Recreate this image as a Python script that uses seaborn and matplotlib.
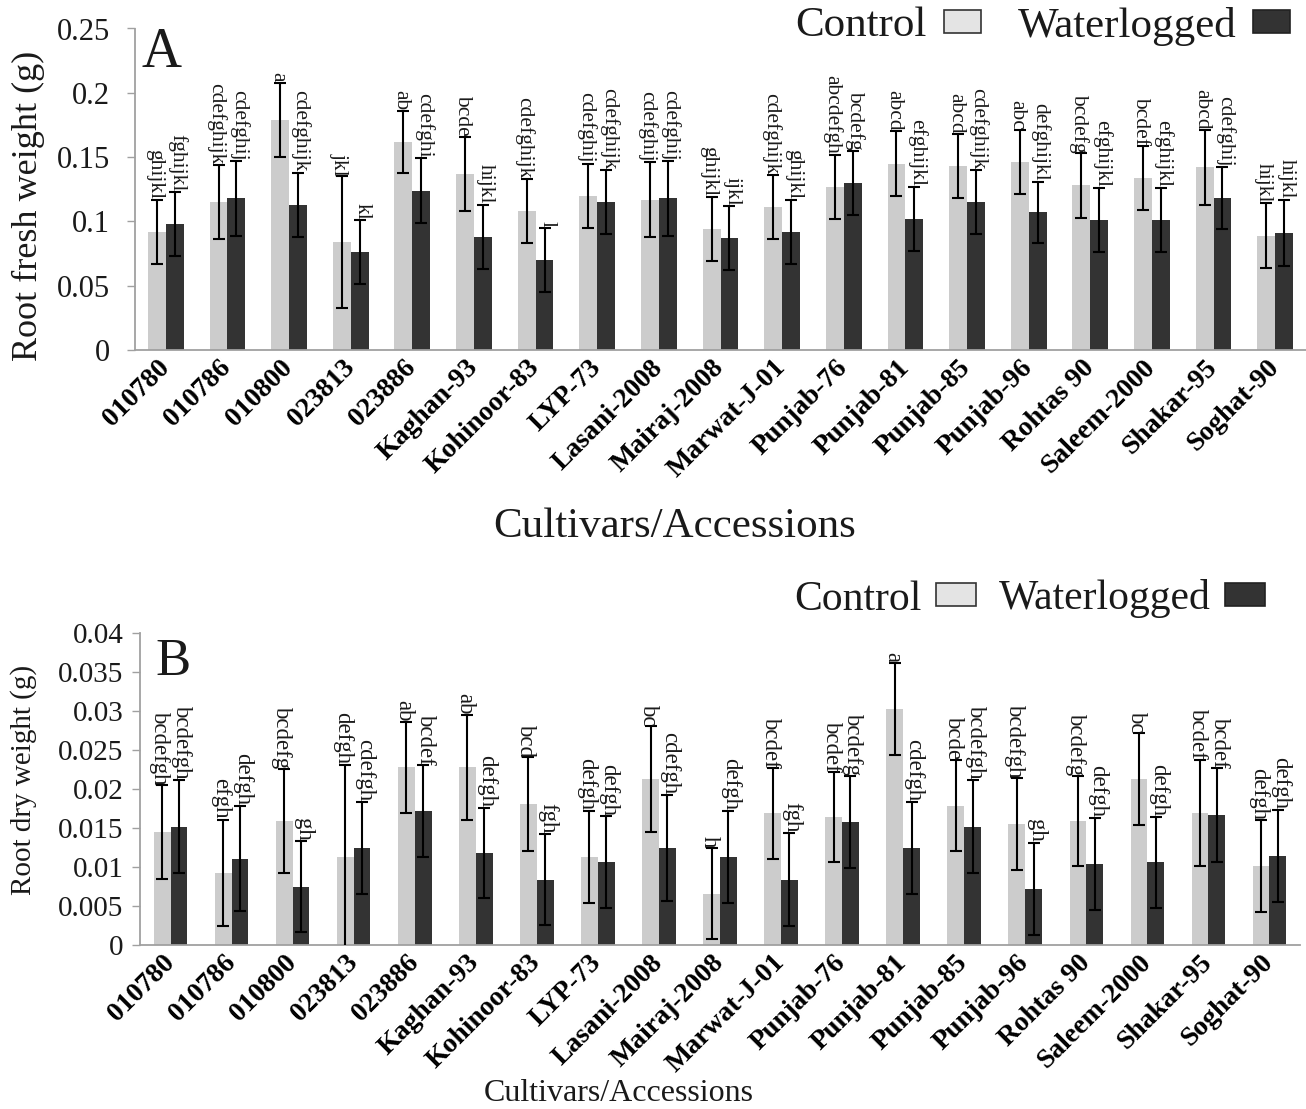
import matplotlib
matplotlib.use("Agg")
import matplotlib.pyplot as plt
import numpy as np
import pandas as pd
import seaborn as sns
from matplotlib.patches import Patch
from matplotlib.ticker import FuncFormatter, MultipleLocator

# ---- data -----------------------------------------------------------------
cultivars = ["010780", "010786", "010800", "023813", "023886", "Kaghan-93",
             "Kohinoor-83", "LYP-73", "Lasani-2008", "Mairaj-2008",
             "Marwat-J-01", "Punjab-76", "Punjab-81", "Punjab-85",
             "Punjab-96", "Rohtas 90", "Saleem-2000", "Shakar-95", "Soghat-90"]
treatments = ["Control", "Waterlogged"]

# Root fresh weight (g)
fw_control = [0.092, 0.115, 0.179, 0.084, 0.162, 0.137, 0.108, 0.120, 0.117,
              0.094, 0.111, 0.127, 0.145, 0.143, 0.146, 0.128, 0.134, 0.142,
              0.089]
fw_control_err = [0.025, 0.029, 0.029, 0.051, 0.024, 0.029, 0.025, 0.025,
                  0.029, 0.025, 0.025, 0.025, 0.025, 0.025, 0.025, 0.025,
                  0.025, 0.029, 0.025]
fw_water = [0.098, 0.118, 0.113, 0.076, 0.124, 0.088, 0.070, 0.115, 0.118,
            0.087, 0.092, 0.130, 0.102, 0.115, 0.107, 0.101, 0.101, 0.118,
            0.091]
fw_water_err = [0.025, 0.029, 0.025, 0.025, 0.025, 0.025, 0.025, 0.025,
                0.029, 0.025, 0.025, 0.025, 0.025, 0.025, 0.024, 0.025,
                0.025, 0.024, 0.026]
fw_control_grp = ["ghijkl", "cdefghijk", "a", "jkl", "ab", "bcde", "cdefghijk",
                  "cdefghij", "cdefghij", "ghijkl", "cdefghijk", "abcdefgh",
                  "abcd", "abcd", "abc", "bcdefg", "bcdef", "abcd", "hijkl"]
fw_water_grp = ["fghijkl", "cdefghij", "cdefghijk", "kl", "cdefghi", "hijkl",
                "l", "cdefghijk", "cdefghij", "ijkl", "ghijkl", "bcdefg",
                "efghijkl", "cdefghijk", "defghijkl", "efghijkl", "efghijkl",
                "cdefghij", "hijkl"]

# Root dry weight (g)
dw_control = [0.0145, 0.0093, 0.0159, 0.0113, 0.0228, 0.0228, 0.0181, 0.0113,
              0.0213, 0.0066, 0.0169, 0.0164, 0.0303, 0.0179, 0.0155, 0.0159,
              0.0213, 0.0170, 0.0101]
dw_control_err = [0.0060, 0.0068, 0.0067, 0.0118, 0.0058, 0.0067, 0.0060,
                  0.0059, 0.0068, 0.0058, 0.0058, 0.0058, 0.0059, 0.0058,
                  0.0059, 0.0058, 0.0059, 0.0068, 0.0059]
dw_water = [0.0152, 0.0111, 0.0075, 0.0125, 0.0172, 0.0118, 0.0084, 0.0106,
            0.0125, 0.0113, 0.0084, 0.0158, 0.0125, 0.0152, 0.0072, 0.0104,
            0.0106, 0.0167, 0.0114]
dw_water_err = [0.0060, 0.0068, 0.0058, 0.0059, 0.0059, 0.0058, 0.0058,
                0.0059, 0.0068, 0.0059, 0.0060, 0.0059, 0.0059, 0.0060,
                0.0059, 0.0059, 0.0058, 0.0060, 0.0059]
dw_control_grp = ["bcdefgh", "efgh", "bcdefg", "defgh", "ab", "ab", "bcd",
                  "defgh", "bc", "h", "bcdef", "bcdef", "a", "bcde", "bcdefgh",
                  "bcdefg", "bc", "bcdef", "defgh"]
dw_water_grp = ["bcdefgh", "defgh", "gh", "cdefgh", "bcdef", "defgh", "fgh",
                "defgh", "cdefgh", "defgh", "fgh", "bcdefg", "cdefgh",
                "bcdefgh", "gh", "defgh", "defgh", "bcdef", "defgh"]

# ---- style ----------------------------------------------------------------
sns.set_theme(style="white")
plt.rcParams["font.family"] = ["Liberation Serif", "DejaVu Serif"]
TXT = "#1a1a1a"
SPINE = "#a0a0a0"
palette = {"Control": "#cccccc", "Waterlogged": "#333333"}

W, H = 1306, 1109
fig = plt.figure(figsize=(W / 100, H / 100), dpi=100)
axA = fig.add_axes([135 / W, 1 - 350 / H, 1171 / W, 321.5 / H])
axB = fig.add_axes([140 / W, 1 - 945 / H, 1160 / W, 311.7 / H])


def draw_panel(ax, ctrl, ctrl_err, wl, wl_err, ctrl_grp, wl_grp, width,
               letter_size):
    n = len(cultivars)
    df = pd.DataFrame({
        "Cultivar": cultivars * 2,
        "Treatment": ["Control"] * n + ["Waterlogged"] * n,
        "Value": list(ctrl) + list(wl),
    })
    sns.barplot(data=df, x="Cultivar", y="Value", hue="Treatment",
                order=cultivars, hue_order=treatments, palette=palette,
                errorbar=None, width=width, saturation=1, linewidth=0,
                legend=False, ax=ax)
    # error bars and significance letters, one series at a time
    for cont, errs, grps, dx in zip(ax.containers, [ctrl_err, wl_err],
                                    [ctrl_grp, wl_grp], [-1.8, 1.8]):
        xs = [b.get_x() + b.get_width() / 2 for b in cont]
        hs = [b.get_height() for b in cont]
        ax.errorbar(xs, hs, yerr=errs, fmt="none", ecolor="black",
                    elinewidth=1.5, capsize=4.5, capthick=1.5, zorder=3)
        for x, h, e, t in zip(xs, hs, errs, grps):
            ax.annotate(t, (x, h + e), xytext=(dx, 0.5),
                        textcoords="offset points", rotation=-90,
                        ha="center", va="bottom", fontsize=letter_size,
                        color=TXT)
    ax.set_xlim(-0.5, n - 0.5)
    sns.despine(ax=ax)
    for s in ("left", "bottom"):
        ax.spines[s].set_color(SPINE)
        ax.spines[s].set_linewidth(1.3)
    ax.yaxis.set_major_formatter(FuncFormatter(lambda v, p: f"{v:g}"))
    ax.tick_params(axis="x", bottom=False, length=0)
    ax.set_xticks(range(n))
    ax.set_xticklabels(cultivars, rotation=45, ha="right", va="center",
                       rotation_mode="anchor", fontweight="bold",
                       fontsize=20, color="black")


# Panel A: fresh weight
draw_panel(axA, fw_control, fw_control_err, fw_water, fw_water_err,
           fw_control_grp, fw_water_grp, 0.58, 15.5)
axA.set_ylim(0, 0.25)
axA.yaxis.set_major_locator(MultipleLocator(0.05))
axA.tick_params(axis="y", left=True, direction="out", length=6, width=1,
                color=SPINE, labelsize=22, pad=12, labelcolor=TXT)
axA.tick_params(axis="x", pad=10)
axA.set_ylabel("Root fresh weight (g)", fontsize=26, color=TXT, va="center")
axA.yaxis.set_label_coords(-0.0914, 0.448)
axA.set_xlabel("Cultivars/Accessions", fontsize=31, color=TXT, va="center")
axA.xaxis.set_label_coords(0.461, -0.5505)

# Panel B: dry weight
draw_panel(axB, dw_control, dw_control_err, dw_water, dw_water_err,
           dw_control_grp, dw_water_grp, 0.55, 16.5)
axB.set_ylim(0, 0.04)
axB.yaxis.set_major_locator(MultipleLocator(0.005))
axB.tick_params(axis="y", left=True, direction="out", length=6, width=1,
                color=SPINE, labelsize=21, pad=6, labelcolor=TXT)
axB.tick_params(axis="x", pad=10)
axB.set_ylabel("Root dry weight (g)", fontsize=21, color=TXT, va="center")
axB.yaxis.set_label_coords(-0.1002, 0.529)
axB.set_xlabel("Cultivars/Accessions", fontsize=23, color=TXT, va="center")
axB.xaxis.set_label_coords(0.4128, -0.475)

# Panel letters
fig.text(142 / W, 1 - 67 / H, "A", fontsize=40, color=TXT, va="baseline")
fig.text(155 / W, 1 - 675 / H, "B", fontsize=38, color=TXT, va="baseline")

# Legends (label first, swatch after)
handles = [Patch(facecolor="#e4e4e4", edgecolor="#333333", linewidth=1.2,
                 label="Control"),
           Patch(facecolor="#333333", edgecolor="#222222", linewidth=1.2,
                 label="Waterlogged")]
legend_specs = [
    # axes, font size, anchor, handle length, text pad, column spacing
    (axA, 31, (1290 / W, 1 - 26 / H), 0.85, 0.4, 0.85),
    (axB, 30, (1265 / W, 1 - 599 / H), 0.95, 0.35, 0.55),
]
for ax, fs, anchor, hl, tp, cs in legend_specs:
    leg = ax.legend(handles=handles, ncol=2, markerfirst=False,
                    frameon=False, fontsize=fs, handlelength=hl,
                    handleheight=0.45, handletextpad=tp, columnspacing=cs,
                    loc="center right", bbox_to_anchor=anchor,
                    bbox_transform=fig.transFigure, borderpad=0,
                    borderaxespad=0)
    for t in leg.get_texts():
        t.set_color(TXT)

fig.savefig("out.png", dpi=100)
